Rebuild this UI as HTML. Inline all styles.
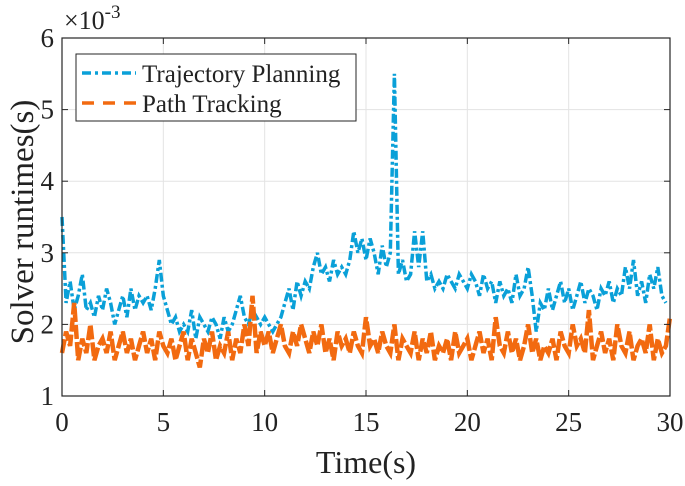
<!DOCTYPE html>
<html><head><meta charset="utf-8"><style>
body{margin:0;background:#fff;}
svg text{font-family:"Liberation Serif",serif;fill:#222;}
</style></head><body>
<svg id="chart" width="685" height="481" xmlns="http://www.w3.org/2000/svg">
<g id="grid"></g>
<g id="series"></g>
<rect x="62" y="38" width="608" height="358" fill="none" stroke="#262626" stroke-width="1.2"/>
<g id="ticks"></g>
<text x="64" y="29" font-size="26">×10<tspan dy="-11" font-size="19">-3</tspan></text>
<text x="366" y="473" font-size="32" text-anchor="middle">Time(s)</text>
<text transform="translate(33,222) rotate(-90)" font-size="33" text-anchor="middle">Solver runtimes(s)</text>
<g>
<rect x="76" y="54" width="280" height="67" fill="#fff" stroke="#262626" stroke-width="1"/>
<line x1="82" y1="73" x2="136" y2="73" stroke="#0aa0d8" stroke-width="3.5" stroke-dasharray="9,4,3,4"/>
<text x="142" y="82" font-size="25">Trajectory Planning</text>
<line x1="82" y1="103" x2="136" y2="103" stroke="#f26a10" stroke-width="3.5" stroke-dasharray="12,9"/>
<text x="142" y="112" font-size="25">Path Tracking</text>
</g>
</svg>
<script>
const xTicks=[0,5,10,15,20,25,30];
const yTicks=[1,2,3,4,5,6];
const timeStep=0.2;
const trajectory=[3.5,2.3,2.6,2.2,2.4,2.7,2.2,2.3,2.1,2.4,2.2,
2.5,2.3,2.0,2.2,2.4,2.1,2.5,2.2,2.4,
2.3,2.4,2.2,2.5,2.9,2.4,2.2,2.0,2.1,1.9,
2.0,1.9,2.2,1.8,2.1,2.0,1.9,2.1,2.0,1.8,
2.1,1.9,2.0,2.2,2.4,2.1,2.0,2.2,2.1,2.0,
2.1,2.0,1.9,2.0,2.1,2.3,2.5,2.2,2.6,2.4,
2.6,2.5,2.8,3.0,2.7,2.8,2.6,2.9,2.7,2.8,
2.7,2.9,3.3,3.0,3.2,2.9,3.2,3.0,2.7,3.1,
2.8,3.0,5.5,2.7,2.9,2.6,2.7,3.3,2.8,3.3,
2.6,2.7,2.5,2.6,2.5,2.7,2.6,2.5,2.7,2.6,
2.5,2.7,2.6,2.4,2.7,2.5,2.6,2.3,2.6,2.4,
2.5,2.3,2.7,2.4,2.5,2.8,2.4,1.9,2.3,2.2,
2.5,2.2,2.4,2.6,2.3,2.5,2.2,2.4,2.6,2.3,
2.5,2.4,2.2,2.5,2.4,2.6,2.3,2.5,2.4,2.8,
2.5,2.9,2.4,2.6,2.3,2.7,2.5,2.8,2.4,2.3];
const tracking=[1.6,1.9,1.7,2.3,1.5,1.8,1.6,2.0,1.5,1.7,
1.8,1.6,1.9,1.5,1.7,1.9,1.6,1.8,1.5,1.7,
1.9,1.6,1.8,1.5,1.9,1.7,1.6,1.8,1.5,1.7,
1.9,1.5,1.8,1.6,1.4,1.8,1.6,1.9,1.5,1.7,
1.6,1.9,1.5,1.8,1.6,2.0,1.7,2.4,1.6,1.9,
1.7,1.9,1.6,1.8,2.0,1.7,1.6,1.9,1.7,2.0,
1.8,1.6,1.9,1.7,2.0,1.6,1.8,1.5,1.9,1.7,
1.8,1.6,1.9,1.7,1.6,2.1,1.7,1.8,1.6,1.9,
1.7,1.6,2.0,1.5,1.8,1.7,1.6,1.9,1.5,1.8,
1.6,1.9,1.5,1.7,1.6,1.8,1.5,1.9,1.6,1.7,
1.8,1.5,1.7,1.9,1.6,1.8,1.5,2.1,1.7,1.6,
1.9,1.6,1.8,1.5,1.7,2.0,1.6,1.8,1.5,1.7,
1.6,1.8,1.5,1.9,1.7,1.6,2.0,1.7,1.8,1.6,
2.2,1.5,1.7,1.9,1.6,1.8,1.5,2.0,1.7,1.6,
1.9,1.5,1.7,1.8,1.6,2.0,1.5,1.8,1.6,1.7,
2.1];
const X0=62,X1=670,Y0=396,Y1=38;
const xs=v=>X0+(v-0)/(30-0)*(X1-X0);
const ys=v=>Y0-(v-1)/(6-1)*(Y0-Y1);
const NS="http://www.w3.org/2000/svg";
function mk(tag,attrs,parent){const e=document.createElementNS(NS,tag);for(const k in attrs)e.setAttribute(k,attrs[k]);parent.appendChild(e);return e;}
const grid=document.getElementById('grid'),ticks=document.getElementById('ticks'),ser=document.getElementById('series');
xTicks.forEach(t=>{
 const g=mk('line',{x1:xs(t),x2:xs(t),y1:Y0,y2:Y1,stroke:'#e3e3e3','stroke-width':1},grid);
 
 
 const tk=mk('line',{x1:xs(t),x2:xs(t),y1:Y0,y2:Y0-6,stroke:'#262626'},ticks);
 
 
 const tk2=mk('line',{x1:xs(t),x2:xs(t),y1:Y1,y2:Y1+6,stroke:'#262626'},ticks);
 
 
 const l=mk('text',{x:xs(t),y:Y0+35,'font-size':27,'text-anchor':'middle'},ticks);l.textContent=t;
 
 
});
yTicks.forEach(t=>{
 const g=mk('line',{x1:X0,x2:X1,y1:ys(t),y2:ys(t),stroke:'#e3e3e3','stroke-width':1},grid);
 
 
 const tk=mk('line',{x1:X0,x2:X0+6,y1:ys(t),y2:ys(t),stroke:'#262626'},ticks);
 
 
 const tk2=mk('line',{x1:X1,x2:X1-6,y1:ys(t),y2:ys(t),stroke:'#262626'},ticks);
 
 
 const l=mk('text',{x:X0-8,y:ys(t)+9,'font-size':27,'text-anchor':'end'},ticks);l.textContent=t;
 
 
});
function path(arr){return arr.map((v,i)=>(i?'L':'M')+xs(i*timeStep).toFixed(1)+','+ys(v).toFixed(1)).join('');}
const p1=mk('path',{d:path(trajectory),fill:'none',stroke:'#0aa0d8','stroke-width':3.5,'stroke-dasharray':'9,3,3,3'},ser);


const p2=mk('path',{d:path(tracking),fill:'none',stroke:'#f26a10','stroke-width':4.5,'stroke-dasharray':'14,3'},ser);


</script>
</body></html>
